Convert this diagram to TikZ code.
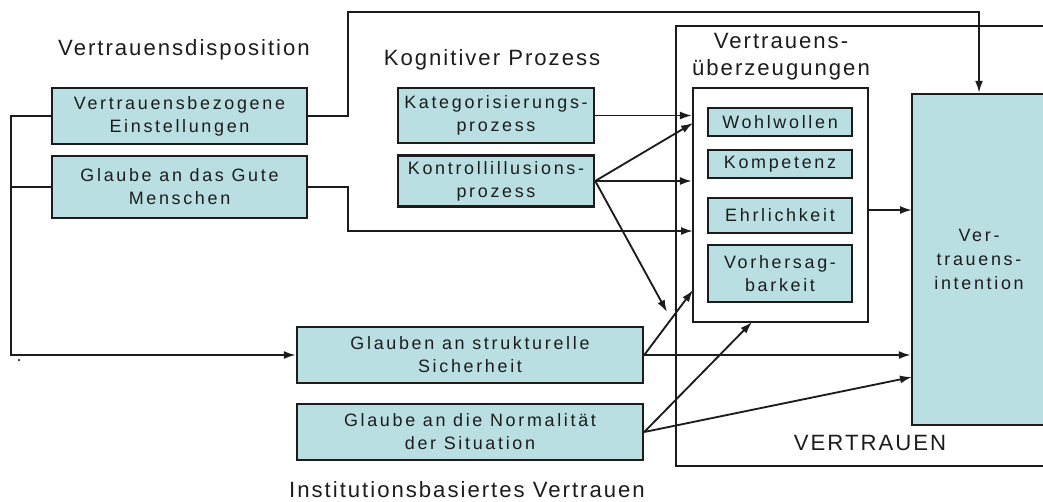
\documentclass[tikz,border=0pt]{standalone}
\usepackage{fontspec}
\setmainfont{Liberation Sans}[LetterSpace=15]
\newfontfamily\headfam{Liberation Sans}[LetterSpace=9]
\usetikzlibrary{arrows.meta}
\definecolor{boxfill}{HTML}{B9DFE2}
\definecolor{ink}{HTML}{1C1C1C}
\newcommand{\boxfont}{\fontsize{10.2}{13}\selectfont}
\newcommand{\headfont}{\headfam\fontsize{12.6}{15.4}\selectfont}
\begin{document}
\begin{tikzpicture}[x=0.02cm,y=-0.02cm,
    size/.style 2 args={minimum width=#1*0.02cm, minimum height=#2*0.02cm},
    box/.style={draw=ink, line width=1.4pt, fill=boxfill, align=center,
      inner sep=0pt, text=ink, font=\boxfont},
    frame/.style={draw=ink, line width=1.25pt},
    head/.style={align=center, inner sep=0pt, text=ink, font=\headfont},
    conn/.style={draw=ink, line width=1.05pt, -{Latex[length=2.4mm,width=1.6mm]}}]
  \useasboundingbox (0,0) rectangle (1043,501);
  \clip (0,0) rectangle (1043,501);
  % outer frame and intention
  \draw[frame] (676,26) rectangle (1060,466);
  \node[box, size={134}{331}, font=\fontsize{10.2}{13.6}\selectfont]
    (I) at (979,259.5) {Ver-\\trauens-\\intention};
  \node[frame, size={175}{234}, inner sep=0pt] (U) at (780.5,205) {};
  % headings
  \node[head] (h1) at (184,50) {Vertrauensdisposition};
  \node[head] (h2) at (492,60) {Kognitiver Prozess};
  \node[head] (h3) at (781,57) {Vertrauens-\\überzeugungen};
  \node[head] (h4) at (870,443) {VERTRAUEN};
  \node[head] (h5) at (467,490) {Institutionsbasiertes Vertrauen};
  \node[inner sep=0pt, text=ink, font=\boxfont] (dot) at (19,361) {.};
  % boxes
  \node[box, size={255}{56}] (A) at (179.5,116) {Vertrauensbezogene\\Einstellungen};
  \node[box, size={255}{62}] (B) at (179.5,187) {Glaube an das Gute\\Menschen};
  \node[box, size={196}{55}] (K) at (496,115.5) {Kategorisierungs-\\prozess};
  \node[box, size={196}{51}] (C) at (496,181) {Kontrollillusions-\\prozess};
  \node[box, size={346}{56}] (S) at (470,355) {Glauben an strukturelle\\Sicherheit};
  \node[box, size={346}{56}] (N) at (470,432) {Glaube an die Normalität\\der Situation};
  \node[box, size={144}{28}] (W) at (780,122) {Wohlwollen};
  \node[box, size={144}{28}] (Ko) at (780,164) {Kompetenz};
  \node[box, size={144}{35}] (E) at (780,215.5) {Ehrlichkeit};
  \node[box, size={144}{57}] (V) at (780,273.5) {Vorhersag-\\barkeit};
  % connector ends
  \coordinate (top) at (979,12);
  \coordinate (u1) at (693,123);
  \coordinate (u4) at (693,231);
  \coordinate (u5) at (693,290);
  \coordinate (u6) at (752,322);
  \coordinate (c7) at (667,312);
  \coordinate (i1) at (912,210);
  \coordinate (i2) at (912,377);
  % connectors
  \draw[conn] (A.west) -- ++(-40,0) |- (S.west);
  \draw[conn, -] (B.west) -- ++(-40,0);
  \draw[conn] (A.east) -- ++(40,0) |- (top) -- (I.north);
  \draw[conn] (B.east) -- ++(40,0) |- (u4);
  \draw[conn] (K.east) -- (K.east -| U.west);
  \draw[conn] (C.east) -- (u1);
  \draw[conn] (C.east) -- (C.east -| U.west);
  \draw[conn] (C.east) -- (c7);
  \draw[conn] (S.east) -- (u5);
  \draw[conn] (S.east) -- (S.east -| I.west);
  \draw[conn] (N.east) -- (u6);
  \draw[conn] (N.east) -- (i2);
  \draw[conn] (U.east |- i1) -- (i1);
\end{tikzpicture}
\end{document}
